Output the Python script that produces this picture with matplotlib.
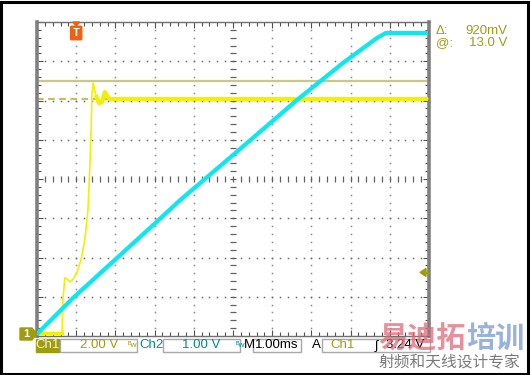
"""Oscilloscope capture: Ch1 (yellow, 2 V/div) and Ch2 (cyan, 1 V/div) start-up ramp."""

import matplotlib

matplotlib.use("Agg")
import matplotlib.pyplot as plt
import numpy as np
from matplotlib.patches import Polygon, Rectangle, FancyBboxPatch

plt.rcParams["font.family"] = ["Liberation Sans", "DejaVu Sans"]

# --- data read from the capture (time in ms, 1 ms/div) ---
ch1_time_ms = [0.0, 0.64, 0.66, 0.71, 0.77, 0.84, 0.92, 1.02, 1.12, 1.22, 1.30, 1.35,
               1.38, 1.40, 1.43, 1.45, 1.50, 1.58, 1.66, 1.73, 1.79, 1.86, 1.99, 9.97]
ch1_volts = [0.15, 0.15, 1.83, 2.96, 2.90, 2.75, 2.90, 3.26, 3.87, 4.89, 6.42, 8.71,
             10.50, 12.28, 12.89, 12.74, 12.28, 11.87, 11.92, 12.43, 12.23, 12.08, 12.08, 12.08]
ch1_settle_index = 16  # from here on the trace is the noisy settled band

ch2_time_ms = [0.0, 0.92, 2.88, 3.65, 5.0, 6.63, 7.81, 8.67, 8.90, 9.97]
ch2_volts = [0.05, 0.97, 2.75, 3.46, 4.61, 6.01, 6.96, 7.59, 7.72, 7.72]

CH1_SCALE = 2.0   # V/div
CH2_SCALE = 1.0   # V/div
cursor_at_v = 13.0
cursor_delta_v = 0.92
trigger_level_v = 3.24
trigger_time_ms = 1.0

W, H = 530, 375
YELLOW = "#f0f000"
CYAN = "#10e6f0"
OLIVE = "#a09c10"
TEAL = "#008c8c"


def fx(x):
    return x / W


def fy(y):
    return 1 - y / H


fig = plt.figure(figsize=(W / 100, H / 100), dpi=100)
fig.patch.set_facecolor("white")
fig.add_artist(Rectangle((0.002, 0.004), 0.994, 0.992, transform=fig.transFigure,
                         fill=False, edgecolor="black", lw=2.2))

ax = fig.add_axes([fx(37), fy(336), 392 / W, 314 / H])
ax.set_xlim(0, 10)
ax.set_ylim(0, 8)
ax.set_facecolor("white")

# graticule: dotted grid lines, crossed centre lines, ticks on the border
steps = np.arange(0, 10.01, 0.2)
vsteps = np.arange(0, 8.01, 0.2)
for gx in range(1, 10):
    if gx != 5:
        ax.plot([gx] * len(vsteps), vsteps, ls="none", marker="s", ms=1.1, color="#8a8a8a", mew=0)
for gy in range(1, 8):
    if gy != 4:
        ax.plot(steps, [gy] * len(steps), ls="none", marker="s", ms=1.1, color="#6a6a6a", mew=0)
ax.plot(steps, [4] * len(steps), ls="none", marker="|", ms=5, color="#606060", mew=0.9)
ax.plot([5] * len(vsteps), vsteps, ls="none", marker="_", ms=5, color="#606060", mew=0.9)

ax.set_xticks(range(11))
ax.set_yticks(range(9))
ax.set_xticks(steps, minor=True)
ax.set_yticks(vsteps, minor=True)
ax.tick_params(which="both", direction="in", top=True, right=True,
               labelbottom=False, labelleft=False, color="#505050")
ax.tick_params(which="major", length=4, width=0.8)
ax.tick_params(which="minor", length=3, width=0.8)
for side in ("top", "bottom"):
    ax.spines[side].set_color("#707070")
    ax.spines[side].set_linewidth(1.0)
for side in ("left", "right"):
    ax.spines[side].set_color("#808080")
    ax.spines[side].set_linewidth(2.6)
    ax.spines[side].set_linestyle((0, (1, 1)))

# cursors
ax.axhline(cursor_at_v / CH1_SCALE, color="#c8c888", lw=1.6, zorder=2)
ax.axhline((cursor_at_v - cursor_delta_v) / CH1_SCALE, color="#c8c060", lw=1.6,
           ls=(0, (3, 2)), zorder=2)

# traces
ch1_div = np.array(ch1_volts) / CH1_SCALE
ax.plot(ch1_time_ms, ch1_div, color=YELLOW, lw=1.2, zorder=3)
ax.plot(ch1_time_ms[ch1_settle_index:], ch1_div[ch1_settle_index:], color=YELLOW, lw=3.0,
        zorder=3, solid_capstyle="butt")
ax.plot(ch1_time_ms[:2], ch1_div[:2], color=YELLOW, lw=2.5, zorder=3)
ax.plot(ch2_time_ms, np.array(ch2_volts) / CH2_SCALE, color=CYAN, lw=3.1, zorder=4,
        solid_capstyle="butt")

# trigger position marker (top) and trigger level arrow (right)
tx = 37 + trigger_time_ms * 39.2
fig.add_artist(Polygon([(fx(tx - 3.5), fy(22)), (fx(tx + 3.5), fy(22)), (fx(tx), fy(26))],
                       closed=True, transform=fig.transFigure, color="#f06010"))
fig.add_artist(FancyBboxPatch((fx(tx - 4.5), fy(39)), 9 / W, 12 / H,
                              boxstyle="round,pad=0.002", transform=fig.transFigure,
                              color="#f06010"))
fig.text(fx(tx), fy(33), "T", color="white", fontsize=8, fontweight="bold",
         ha="center", va="center")
ty = 336 - trigger_level_v / CH1_SCALE * 39.25
fig.add_artist(Polygon([(fx(420), fy(ty)), (fx(426), fy(ty - 4)), (fx(426), fy(ty + 4))],
                       closed=True, transform=fig.transFigure, color=OLIVE))
fig.add_artist(Rectangle((fx(425), fy(ty + 0.7)), 4 / W, 1.4 / H,
                         transform=fig.transFigure, color=OLIVE))

# channel 1 ground marker
fig.add_artist(Polygon([(fx(20), fy(328)), (fx(32), fy(328)), (fx(37), fy(334)),
                        (fx(32), fy(340)), (fx(20), fy(340))],
                       closed=True, transform=fig.transFigure, color=OLIVE))
fig.text(fx(26), fy(334), "1", color="white", fontsize=8, fontweight="bold",
         ha="center", va="center")

# status bar
FS = 9.5


def box(x0, x1, face="white", edge="#a8a8a8"):
    fig.add_artist(Rectangle((fx(x0), fy(352)), (x1 - x0) / W, 13 / H,
                             transform=fig.transFigure, facecolor=face, edgecolor=edge, lw=1))


def label(x, s, color, ha="center", size=FS):
    fig.text(fx(x), fy(345.5), s, color=color, fontsize=size, ha=ha, va="center")


box(36, 59, face=OLIVE, edge=OLIVE)
label(47.5, "Ch1", "#f4f4d0")
box(60, 137)
label(99, "2.00 V", OLIVE)
label(133, "ᴮw", OLIVE, size=6)
label(151, "Ch2", TEAL)
box(163, 240)
label(201, "1.00 V", TEAL)
label(240, "ᴮw", TEAL, size=6)
label(249.5, "M", "black")
box(253, 301)
label(277, "1.00ms", "black")
label(316, "A", "black")
box(322, 430)
label(343, "Ch1", OLIVE)
label(376, "ʃ", "black")
label(405, "3.24 V", "black")

# cursor readout
fig.text(fx(436), fy(31), "Δ:", color=OLIVE, fontsize=FS, va="center")
fig.text(fx(507), fy(31), f"{cursor_delta_v * 1000:.0f}mV", color=OLIVE, fontsize=FS,
         va="center", ha="right")
fig.text(fx(436), fy(43), "@:", color=OLIVE, fontsize=FS, va="center")
fig.text(fx(507), fy(43), f"{cursor_at_v:.1f} V", color=OLIVE, fontsize=FS,
         va="center", ha="right")

# watermark (overlaps the trigger readout, as in the capture)
cjk = ["Noto Sans CJK SC", "DejaVu Sans"]
fig.text(fx(378), fy(338), "易迪拓", color="#e06a78", alpha=0.75, fontsize=21,
         fontweight="bold", family=cjk, va="center")
fig.text(fx(466), fy(338), "培训", color="#7f9fd0", alpha=0.8, fontsize=21,
         fontweight="bold", family=cjk, va="center")
fig.text(fx(379), fy(363), "射频和天线设计专家", color="#7a7a7a", fontsize=11.3,
         family=cjk, va="center")

fig.savefig("out.png", dpi=100)
